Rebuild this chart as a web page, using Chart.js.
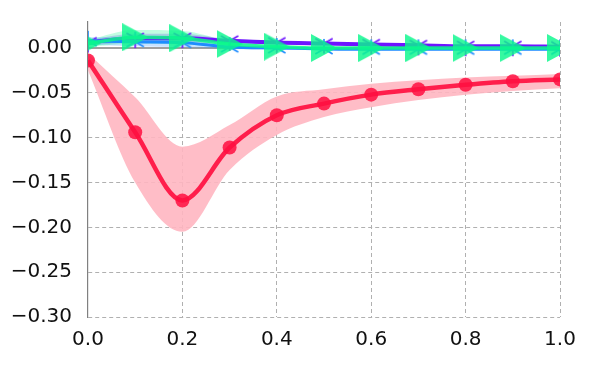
<!DOCTYPE html>
<html>
<head>
<meta charset="utf-8">
<script src="https://cdn.jsdelivr.net/npm/chart.js@4"></script>
<style>
  html, body { margin: 0; padding: 0; background: #fff; }
  #wrap { width: 600px; height: 375px; }
</style>
</head>
<body>
<div id="wrap"><canvas id="chart" width="600" height="375"></canvas></div>
<script>
// x positions and tick labels
const xs = [0, 0.1, 0.2, 0.3, 0.4, 0.5, 0.6, 0.7, 0.8, 0.9, 1.0];
const yTicks = [0, -0.05, -0.10, -0.15, -0.20, -0.25, -0.30];

// red series (circles) and its band
const redMean  = [-0.014, -0.094, -0.170, -0.111, -0.075, -0.062, -0.052, -0.046, -0.041, -0.037, -0.035];
const redUpper = [-0.006, -0.055, -0.110, -0.086, -0.054, -0.046, -0.040, -0.036, -0.033, -0.031, -0.029];
const redLower = [-0.025, -0.150, -0.205, -0.136, -0.097, -0.077, -0.066, -0.058, -0.052, -0.048, -0.045];

// purple series
const purpleMean  = [0.006, 0.011, 0.011, 0.008, 0.006, 0.005, 0.004, 0.003, 0.002, 0.002, 0.0015];
const purpleUpper = [0.009, 0.016, 0.016, 0.010, 0.008, 0.006, 0.005, 0.004, 0.003, 0.003, 0.0025];
const purpleLower = [0.003, 0.006, 0.006, 0.006, 0.004, 0.004, 0.003, 0.002, 0.001, 0.001, 0.0005];

// blue series
const blueMean  = [0.008, 0.007, 0.006, 0.001, 0.000, -0.001, -0.0015, -0.0015, -0.0015, -0.0015, -0.0015];
const blueUpper = [0.012, 0.012, 0.011, 0.003, 0.001, 0.000, -0.0005, -0.0005, -0.0005, -0.0005, -0.0005];
const blueLower = [0.004, 0.002, 0.001, -0.001, -0.002, -0.002, -0.0025, -0.0025, -0.0025, -0.0025, -0.0025];

// green series (triangles)
const greenMean  = [0.005, 0.012, 0.011, 0.0045, 0.0015, 0.000, 0.000, 0.000, 0.000, 0.000, 0.000];
const greenUpper = [0.009, 0.020, 0.019, 0.008, 0.003, 0.001, 0.001, 0.001, 0.001, 0.001, 0.001];
const greenLower = [0.001, 0.005, 0.004, 0.001, 0.000, -0.001, -0.001, -0.001, -0.001, -0.001, -0.001];

const pts = arr => arr.map((v, i) => ({ x: xs[i], y: v }));

// matplotlib-like tri markers
function triMarker(color, down) {
    const c = document.createElement('canvas');
    c.width = 24; c.height = 24;
    const g = c.getContext('2d');
    g.strokeStyle = color;
    g.lineWidth = 1.6;
    const r = 10;
    const base = down ? [90, 210, 330] : [270, 30, 150];
    g.beginPath();
    base.forEach(a => {
        const t = a * Math.PI / 180;
        g.moveTo(12, 12);
        g.lineTo(12 + r * Math.cos(t), 12 + r * Math.sin(t));
    });
    g.stroke();
    return c;
}

// '>' marker, bounding box centred on the point
function rightTriangle(color) {
    const c = document.createElement('canvas');
    c.width = 26; c.height = 28;
    const g = c.getContext('2d');
    g.fillStyle = color;
    g.beginPath();
    g.moveTo(0, 0);
    g.lineTo(26, 14);
    g.lineTo(0, 28);
    g.closePath();
    g.fill();
    return c;
}

function band(data, color, fill) {
    return {
        data: pts(data),
        borderWidth: 0,
        pointRadius: 0,
        backgroundColor: color,
        fill: fill,
        cubicInterpolationMode: 'monotone'
    };
}

// zero line drawn through the y scale
const zeroLine = {
    id: 'zeroLine',
    beforeDatasetsDraw(chart) {
        const { ctx, chartArea, scales } = chart;
        const y = scales.y.getPixelForValue(0);
        ctx.save();
        ctx.strokeStyle = '#808080';
        ctx.lineWidth = 1.5;
        ctx.beginPath();
        ctx.moveTo(chartArea.left, y);
        ctx.lineTo(chartArea.right, y);
        ctx.stroke();
        ctx.restore();
    }
};

const datasets = [
    {
        data: pts(greenMean),
        borderColor: 'rgba(10,248,140,0.85)',
        borderWidth: 3.5,
        pointStyle: rightTriangle('rgba(10,248,140,0.82)'),
        cubicInterpolationMode: 'monotone'
    },
    {
        data: pts(blueMean),
        borderColor: '#1e8cff',
        borderWidth: 3,
        pointStyle: triMarker('#1e8cff', false),
        cubicInterpolationMode: 'monotone'
    },
    {
        data: pts(purpleMean),
        borderColor: '#6e14ff',
        borderWidth: 4,
        pointStyle: triMarker('#6e14ff', true),
        cubicInterpolationMode: 'monotone'
    },
    {
        data: pts(redMean),
        borderColor: '#ff1e4b',
        borderWidth: 4.5,
        pointStyle: 'circle',
        pointRadius: 7,
        pointBackgroundColor: 'rgba(255,15,65,0.85)',
        pointBorderWidth: 0,
        cubicInterpolationMode: 'monotone'
    },
    band(greenUpper, 'rgba(10,248,140,0.25)', '+1'),
    band(greenLower, 'transparent', false),
    band(blueUpper, 'rgba(30,140,255,0.25)', '+1'),
    band(blueLower, 'transparent', false),
    band(purpleUpper, 'rgba(110,20,255,0.25)', '+1'),
    band(purpleLower, 'transparent', false),
    band(redUpper, 'rgba(255,182,193,0.9)', '+1'),
    band(redLower, 'transparent', false)
];

new Chart(document.getElementById('chart'), {
    type: 'line',
    data: { datasets: datasets },
    plugins: [zeroLine],
    options: {
        responsive: false,
        animation: false,
        layout: { padding: { top: 22, right: 40, left: 0, bottom: 0 } },
        plugins: { legend: { display: false }, tooltip: { enabled: false } },
        scales: {
            x: {
                type: 'linear',
                min: 0,
                max: 1,
                ticks: {
                    stepSize: 0.2,
                    color: '#111',
                    font: { family: 'DejaVu Sans', size: 20 },
                    padding: 11,
                    callback: v => v.toFixed(1)
                },
                grid: {
                    color: ctx => ctx.tick && ctx.tick.value === 0 ? 'transparent' : '#b0b0b0',
                    lineWidth: 1,
                    drawTicks: false
                },
                border: { display: false, dash: [4, 3] },
                afterFit: s => { s.height = 375 - 317; s.paddingLeft = 0; s.paddingRight = 0; }
            },
            y: {
                min: -0.30,
                max: 0.029,
                afterBuildTicks: s => { s.ticks = yTicks.map(v => ({ value: v })); },
                ticks: {
                    color: '#111',
                    font: { family: 'DejaVu Sans', size: 20 },
                    padding: 16,
                    callback: v => v.toFixed(2).replace('-', '\u2212')
                },
                grid: {
                    color: ctx => ctx.tick && ctx.tick.value === 0 ? 'transparent' : '#b0b0b0',
                    lineWidth: 1,
                    drawTicks: false
                },
                border: { display: true, color: '#808080', width: 1.2, dash: [4, 3] },
                afterFit: s => { s.width = 88; s.paddingTop = 0; s.paddingBottom = 0; }
            }
        }
    }
});
</script>
</body>
</html>
